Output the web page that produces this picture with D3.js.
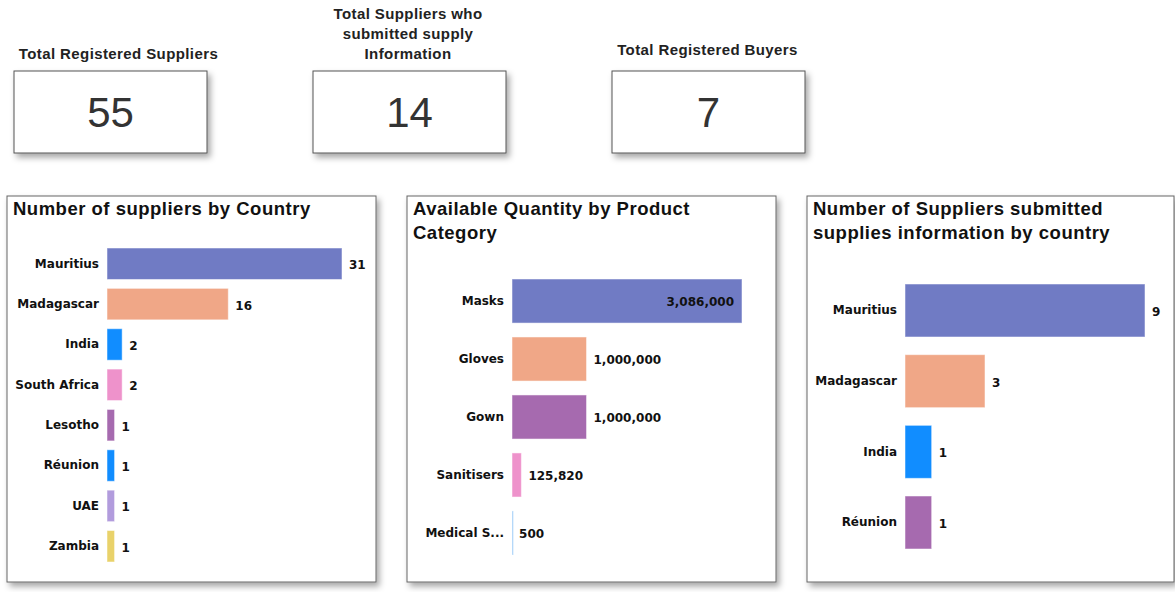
<!DOCTYPE html>
<html lang="en">
<head>
<meta charset="UTF-8">
<title>Supplier dashboard</title>
<script src="https://d3js.org/d3.v7.min.js"></script>
<style>
    body { margin: 0; background: #fff; }
    svg { display: block; }
    .card-title { font-family: "Liberation Sans", Arial, sans-serif; font-weight: bold; font-size: 15px; letter-spacing: 0.4px; fill: #222; }
    .card-value { font-family: "Liberation Sans", Arial, sans-serif; font-size: 42px; fill: #333; }
    .panel-title { font-family: "Liberation Sans", Arial, sans-serif; font-weight: bold; font-size: 18.5px; letter-spacing: 0.5px; fill: #111; }
    .cat-label, .val-label { font-family: "DejaVu Sans", sans-serif; font-weight: bold; font-size: 12px; fill: #111; }
</style>
</head>
<body>
<div id="chart"></div>
<script>
    // KPI cards
    const cardTitles = [
        ["Total Registered Suppliers"],
        ["Total Suppliers who", "submitted supply", "Information"],
        ["Total Registered Buyers"]
    ];
    const cardValues = [55, 14, 7];

    // Number of suppliers by country
    const countryNames = ["Mauritius", "Madagascar", "India", "South Africa", "Lesotho", "Réunion", "UAE", "Zambia"];
    const countryCounts = [31, 16, 2, 2, 1, 1, 1, 1];
    const countryColors = ["#707BC4", "#F0A787", "#118DFF", "#EE92CB", "#A66AAF", "#118DFF", "#B29CDD", "#E9D26A"];

    // Available quantity by product category
    const productNames = ["Masks", "Gloves", "Gown", "Sanitisers", "Medical S..."];
    const productQty = [3086000, 1000000, 1000000, 125820, 500];
    const productColors = ["#707BC4", "#F0A787", "#A66AAF", "#EE92CB", "#9CCBF7"];

    // Suppliers who submitted supplies information
    const submittedNames = ["Mauritius", "Madagascar", "India", "Réunion"];
    const submittedCounts = [9, 3, 1, 1];
    const submittedColors = ["#707BC4", "#F0A787", "#118DFF", "#A66AAF"];

    const W = 1175, H = 592;
    const svg = d3.select("#chart").append("svg")
        .attr("width", W)
        .attr("height", H);

    const defs = svg.append("defs");
    const shadow = defs.append("filter").attr("id", "shadow")
        .attr("x", "-10%").attr("y", "-10%").attr("width", "130%").attr("height", "130%");
    shadow.append("feDropShadow")
        .attr("dx", 3).attr("dy", 4).attr("stdDeviation", 3)
        .attr("flood-color", "#000").attr("flood-opacity", 0.35);

    // cards
    const cardX = [14, 313, 612];
    const cardTitleX = [118.5, 408, 707.5];
    const cardTitleBase = [59, 19, 55];
    cardValues.forEach((v, i) => {
        const g = svg.append("g").attr("transform", `translate(${cardX[i]},71)`);
        g.append("rect")
            .attr("width", 193).attr("height", 82)
            .attr("fill", "#fff").attr("stroke", "#555").attr("stroke-width", 1)
            .attr("filter", "url(#shadow)");
        g.append("text").attr("class", "card-value")
            .attr("x", 96.5).attr("y", 56)
            .attr("text-anchor", "middle")
            .text(v);
        cardTitles[i].forEach((line, j) => {
            svg.append("text").attr("class", "card-title")
                .attr("x", cardTitleX[i])
                .attr("y", cardTitleBase[i] + j * 20)
                .attr("text-anchor", "middle")
                .text(line);
        });
    });

    // bar panels
    function barPanel(opts) {
        const g = svg.append("g");
        g.append("rect")
            .attr("x", opts.left).attr("y", 196)
            .attr("width", opts.width).attr("height", 386)
            .attr("fill", "#fff").attr("stroke", "#666").attr("stroke-width", 1)
            .attr("filter", "url(#shadow)");

        opts.title.forEach((line, j) => {
            g.append("text").attr("class", "panel-title")
                .attr("x", opts.left + 6)
                .attr("y", 215 + j * 24)
                .text(line);
        });

        const x = d3.scaleLinear()
            .domain([0, d3.max(opts.values)])
            .range([opts.x0, opts.x1]);

        const y = d3.scaleBand()
            .domain(opts.names)
            .range(opts.yRange)
            .paddingInner(opts.pad);

        const rows = opts.names.map((n, i) => ({name: n, value: opts.values[i], color: opts.colors[i]}));

        g.selectAll(".bar")
            .data(rows)
            .enter()
            .append("rect")
            .attr("class", "bar")
            .attr("x", x(0))
            .attr("y", d => y(d.name))
            .attr("width", d => Math.max(x(d.value) - x(0), 1.5))
            .attr("height", y.bandwidth())
            .attr("fill", d => d.color)
            .attr("stroke", "rgba(255,255,255,0.5)")
            .attr("stroke-width", 1);

        g.selectAll(".cat-label")
            .data(rows)
            .enter()
            .append("text")
            .attr("class", "cat-label")
            .attr("x", x(0) - 8)
            .attr("y", d => y(d.name) + y.bandwidth() / 2)
            .attr("dy", "0.32em")
            .attr("text-anchor", "end")
            .text(d => d.name);

        g.selectAll(".val-label")
            .data(rows)
            .enter()
            .append("text")
            .attr("class", "val-label")
            .attr("x", d => opts.inside && opts.inside(d) ? x(d.value) - 8 : x(d.value) + 7)
            .attr("y", d => y(d.name) + y.bandwidth() / 2)
            .attr("dy", "0.45em")
            .attr("text-anchor", d => opts.inside && opts.inside(d) ? "end" : "start")
            .text(d => d3.format(",")(d.value));
    }

    barPanel({
        left: 7, width: 369,
        title: ["Number of suppliers by Country"],
        names: countryNames, values: countryCounts, colors: countryColors,
        x0: 107, x1: 342, yRange: [248, 562], pad: 0.22
    });

    barPanel({
        left: 407, width: 369,
        title: ["Available Quantity by Product", "Category"],
        names: productNames, values: productQty, colors: productColors,
        x0: 512, x1: 742, yRange: [279, 555], pad: 0.24,
        inside: d => d.value === d3.max(productQty)
    });

    barPanel({
        left: 807, width: 367,
        title: ["Number of Suppliers submitted", "supplies information by country"],
        names: submittedNames, values: submittedCounts, colors: submittedColors,
        x0: 905, x1: 1145, yRange: [284, 549], pad: 0.25
    });
</script>
</body>
</html>
